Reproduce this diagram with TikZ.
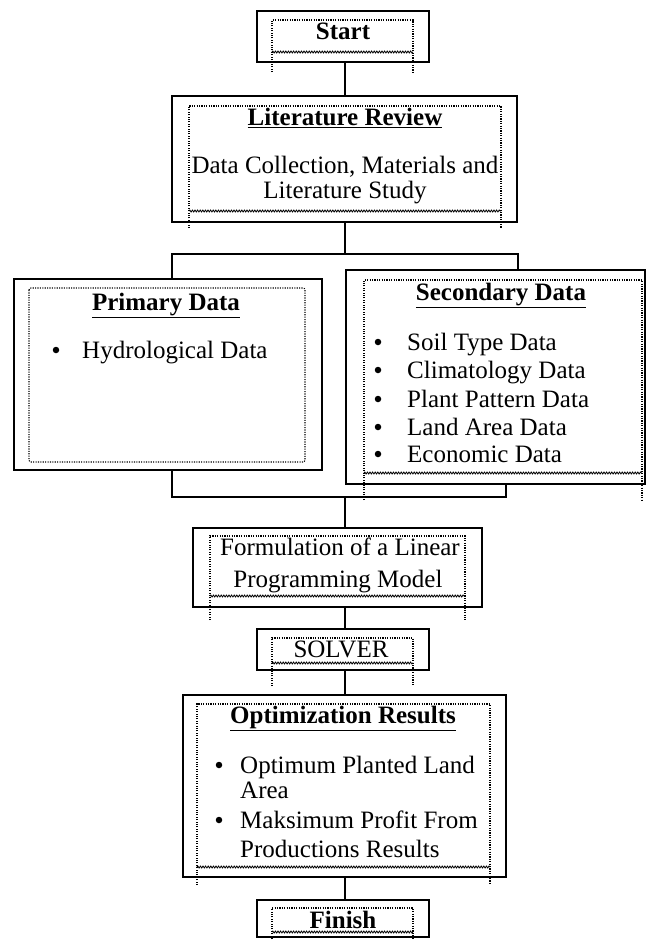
\documentclass[tikz,border=0pt]{standalone}
\usepackage{fontspec}
\setmainfont{Liberation Serif}
\usepackage{tikz}
\usetikzlibrary{positioning, decorations.pathmorphing}

% dotted text frame with wavy bottom: x1, top, x2, wavy, end
\newcommand{\inframe}[5]{%
  \draw[frame] (#1,#5) -- (#1,#2) -- (#3,#2) -- (#3,#5);
  \draw[wavy] (#1,#4) -- (#3,#4);
}

\begin{document}
\begin{tikzpicture}[x=1pt, y=-1pt,
    box/.style={draw, line width=1.7pt, inner sep=0pt},
    frame/.style={line width=1.1pt, dash pattern=on 1.1pt off 1.3pt},
    wavy/.style={line width=0.8pt, decorate, decoration={snake, amplitude=1pt, segment length=2.6pt}},
    txt/.style={anchor=base, inner sep=0pt, font=\fontsize{25}{28}\selectfont},
    item/.style={txt, anchor=base west},
    dot/.style={circle, fill, inner sep=0pt, minimum size=6.5pt, yshift=8pt},
    conn/.style={line width=1.7pt}
]
\useasboundingbox (0,0) rectangle (647,940);

% Boxes
\node[box, minimum width=172pt, minimum height=51pt] (start) at (343,36.5) {};
\node[box, minimum width=345pt, minimum height=126pt] (lit) at (344.5,159) {};
\node[box, minimum width=308pt, minimum height=191pt] (prim) at (168,374.5) {};
\node[box, minimum width=299pt, minimum height=214pt] (sec) at (495.5,377) {};
\node[box, minimum width=289pt, minimum height=79pt] (form) at (337.5,567.5) {};
\node[box, minimum width=172pt, minimum height=41pt] (solver) at (343,649.5) {};
\node[box, minimum width=323pt, minimum height=182pt] (opt) at (344.5,786) {};
\node[box, minimum width=172pt, minimum height=37pt] (finish) at (343,918.5) {};

% Inner text frames
\inframe{272}{20}{413}{52}{72}
\inframe{189}{106}{501}{211}{228}
\draw[frame, rounded corners=2pt] (29,288) rectangle (305,462);
\inframe{364}{280}{642}{473}{500}
\inframe{210}{536}{465}{596}{620}
\inframe{272}{638}{413}{663}{686}
\inframe{197}{704}{490}{867}{885}
\inframe{272}{908}{413}{932}{939}

% Texts
\node[txt] (starttxt) at (343,39) {\textbf{Start}};
\node[txt] (littitle) at (345,125) {\underline{\textbf{Literature Review}}};
\node[txt] (lita) at (345,173) {Data Collection, Materials and};
\node[txt] (litb) at (345,198) {Literature Study};

\node[txt] (primtitle) at (166,310) {\underline{\textbf{Primary Data}}};
\node[dot] (pb1) at (56,358) {};
\node[item] (pt1) at (82,358) {Hydrological Data};

\node[txt] (sectitle) at (501,300) {\underline{\textbf{Secondary Data}}};
\foreach \yy/\lbl [count=\i] in {350/Soil Type Data, 378/Climatology Data,
    407/Plant Pattern Data, 435/Land Area Data, 462/Economic Data} {
  \node[dot] (sb\i) at (378,\yy) {};
  \node[item] (st\i) at (407,\yy) {\lbl};
}

\node[txt] (forma) at (340,555) {Formulation of a Linear};
\node[txt] (formb) at (338,587) {Programming Model};
\node[txt] (solvertxt) at (341,657) {SOLVER};

\node[txt] (opttitle) at (343,723) {\underline{\textbf{Optimization Results}}};
\node[dot] (ob1) at (219,773) {};
\node[item] (ot1) at (240,773) {Optimum Planted Land};
\node[item] (ot1b) at (240,798) {Area};
\node[dot] (ob2) at (219,828) {};
\node[item] (ot2) at (240,828) {Maksimum Profit From};
\node[item] (ot2b) at (240,857) {Productions Results};
\node[txt] (finishtxt) at (343,928) {\textbf{Finish}};

% Connectors
\coordinate (jl) at (172,254);
\coordinate (jr) at (518,254);
\coordinate (kl) at (172,497);
\coordinate (kr) at (506,497);
\coordinate (km) at (345,497);
\draw[conn] (start.south -| km) -- (lit.north -| km);
\draw[conn] (lit.south -| km) -- (jl -| km);
\draw[conn] (prim.north -| jl) -- (jl) -- (jr) -- (sec.north -| jr);
\draw[conn] (prim.south -| kl) -- (kl) -- (kr) -- (sec.south -| kr);
\draw[conn] (km) -- (form.north -| km);
\draw[conn] (form.south -| km) -- (solver.north -| km);
\draw[conn] (solver.south -| km) -- (opt.north -| km);
\draw[conn] (opt.south -| km) -- (finish.north -| km);

\end{tikzpicture}
\end{document}
